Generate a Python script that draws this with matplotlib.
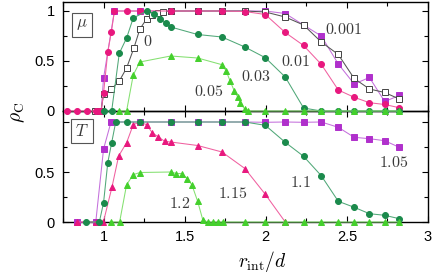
import matplotlib
matplotlib.use("Agg")
import matplotlib.pyplot as plt
from matplotlib.ticker import MultipleLocator

plt.rcParams['mathtext.fontset'] = 'cm'
plt.rcParams['font.family'] = ['Liberation Sans', 'DejaVu Sans']

# ---------------- data: top panel (mu) ----------------
mu0_x = [0.95, 0.985, 1.0, 1.046, 1.097, 1.142, 1.187, 1.224, 1.265, 1.30, 1.338, 1.367, 1.414,
         1.58, 1.73, 1.871, 1.997, 2.12, 2.233, 2.342, 2.447, 2.545, 2.639, 2.733, 2.823]
mu0_y = [0, 0, 0.17, 0.215, 0.30, 0.43, 0.63, 0.82, 0.92, 0.96, 0.985, 0.995, 1.0,
         1.0, 1.0, 1.0, 0.99, 0.94, 0.86, 0.69, 0.565, 0.325, 0.22, 0.185, 0.12]

mu0001_x = [0.952, 0.985, 1.0, 1.067, 1.224, 1.414, 1.58, 1.73, 1.871, 1.997, 2.12, 2.233,
            2.342, 2.447, 2.545, 2.639, 2.733, 2.823]
mu0001_y = [0, 0, 0.33, 1.0, 1.0, 1.0, 1.0, 1.0, 1.0, 1.0, 0.975, 0.86,
            0.75, 0.47, 0.27, 0.335, 0.095, 0.155]

mu001_x = [0.774, 0.839, 0.897, 0.952, 0.974, 0.985, 1.0, 1.026, 1.048, 1.067, 1.142, 1.224,
           1.414, 1.58, 1.73, 1.871, 1.997, 2.12, 2.233, 2.342, 2.447, 2.545, 2.639, 2.733, 2.823]
mu001_y = [0, 0, 0, 0, 0, 0, 0.18, 0.59, 0.79, 1.0, 1.0, 1.0,
           1.0, 1.0, 1.0, 0.995, 0.965, 0.785, 0.655, 0.467, 0.21, 0.137, 0.083, 0.065, 0.033]

mu003_x = [1.0, 1.05, 1.097, 1.142, 1.183, 1.267, 1.31, 1.347, 1.382, 1.414, 1.58, 1.73,
           1.871, 1.997, 2.12, 2.233, 2.342, 2.447, 2.545, 2.639, 2.733, 2.823]
mu003_y = [0, 0, 0.577, 0.73, 0.93, 1.0, 0.975, 0.92, 0.885, 0.84, 0.765, 0.74,
           0.64, 0.533, 0.34, 0.03, 0, 0, 0, 0, 0, 0]

mu005_x = [1.097, 1.142, 1.183, 1.224, 1.414, 1.58, 1.73, 1.756, 1.78, 1.807, 1.827, 1.842,
           1.871, 1.888, 1.997, 2.12, 2.233, 2.342, 2.447, 2.545, 2.639, 2.733, 2.823]
mu005_y = [0, 0, 0.36, 0.49, 0.55, 0.53, 0.463, 0.40, 0.30, 0.197, 0.14, 0.083,
           0.017, 0.0, 0, 0, 0, 0, 0, 0, 0, 0, 0]

# ---------------- data: bottom panel (T) ----------------
T105_x = [0.839, 0.952, 1.0, 1.046, 1.224, 1.414, 1.58, 1.73, 1.871, 1.997, 2.12, 2.233,
          2.342, 2.447, 2.545, 2.639, 2.733, 2.823]
T105_y = [0, 0, 0.73, 1.0, 1.0, 1.0, 1.0, 1.0, 1.0, 0.997, 1.0, 0.997,
          1.0, 0.947, 0.847, 0.833, 0.813, 0.747]

T11_x = [0.893, 0.974, 1.0, 1.026, 1.050, 1.075, 1.142, 1.224, 1.414, 1.58, 1.73, 1.871,
         1.997, 2.12, 2.233, 2.342, 2.447, 2.545, 2.639, 2.733, 2.823]
T11_y = [0, 0, 0.193, 0.593, 0.793, 1.0, 1.0, 1.0, 1.0, 1.0, 1.0, 1.0,
         0.967, 0.797, 0.657, 0.463, 0.207, 0.147, 0.083, 0.067, 0.033]

T115_x = [0.839, 0.952, 0.999, 1.052, 1.093, 1.142, 1.183, 1.224, 1.265, 1.30, 1.338, 1.377,
          1.414, 1.58, 1.73, 1.871, 1.997, 2.12]
T115_y = [0, 0, 0, 0.35, 0.66, 0.793, 0.973, 1.0, 0.973, 0.893, 0.85, 0.807,
          0.80, 0.765, 0.70, 0.535, 0.277, 0.0]

T12_x = [1.046, 1.099, 1.142, 1.183, 1.224, 1.414, 1.449, 1.483, 1.517, 1.545, 1.58, 1.612,
         1.643, 1.674, 1.704, 1.735, 1.871, 1.997, 2.12, 2.233, 2.342, 2.447, 2.545, 2.639,
         2.733, 2.823]
T12_y = [0, 0, 0.373, 0.473, 0.495, 0.50, 0.485, 0.485, 0.433, 0.37, 0.207, 0.02,
         0, 0, 0, 0, 0, 0, 0, 0, 0, 0, 0, 0, 0, 0]

top_labels = ['0', '0.001', '0.01', '0.03', '0.05']
bot_labels = ['1.05', '1.1', '1.15', '1.2']

# ---------------- styles ----------------
MAG, MAG_L = '#e8187e', '#f060a0'
PUR, PUR_L = '#b030cc', '#c470dc'
DGR, DGR_L = '#1b8a4c', '#50a878'
LGR, LGR_L = '#44d02c', '#84e070'
BLK, BLK_L = '#444444', '#555555'
LBL = '#3a3a3a'

W, H = 436, 275
fig = plt.figure(figsize=(W / 100, H / 100), dpi=100)
left, right = 63 / W, 428 / W
ax1 = fig.add_axes([left, 1 - 111 / H, right - left, 109 / H])
ax2 = fig.add_axes([left, 1 - 222 / H, right - left, 111 / H])

def series(ax, x, y, color, lcolor, marker, ms, z, mfc=None):
    ax.plot(x, y, color=lcolor, lw=0.75, marker=marker, ms=ms,
            mfc=mfc or color, mec=color, mew=0.7, clip_on=False, zorder=z)

series(ax1, mu0001_x, mu0001_y, PUR, PUR_L, 's', 4.8, 3)
series(ax1, mu0_x, mu0_y, BLK, BLK_L, 's', 4.8, 4, mfc='white')
series(ax1, mu001_x, mu001_y, MAG, MAG_L, 'o', 4.3, 5)
series(ax1, mu003_x, mu003_y, DGR, DGR_L, 'o', 4.3, 6)
series(ax1, mu005_x, mu005_y, LGR, LGR_L, '^', 4.4, 7)

series(ax2, T105_x, T105_y, PUR, PUR_L, 's', 4.8, 3)
series(ax2, T115_x, T115_y, MAG, MAG_L, '^', 4.4, 4)
series(ax2, T11_x, T11_y, DGR, DGR_L, 'o', 4.3, 5)
series(ax2, T12_x, T12_y, LGR, LGR_L, '^', 4.4, 6)

for ax, ymax in ((ax1, 1.09), (ax2, 1.11)):
    ax.set_xlim(0.75, 3.0)
    ax.set_ylim(0, ymax)
    ax.xaxis.set_major_locator(MultipleLocator(0.5))
    ax.xaxis.set_minor_locator(MultipleLocator(0.25))
    ax.yaxis.set_major_locator(MultipleLocator(0.5))
    ax.yaxis.set_minor_locator(MultipleLocator(0.25))
    ax.tick_params(which='both', direction='in', top=True, right=True, width=0.8,
                   labelsize=10.5, pad=6)
    ax.tick_params(which='major', length=4)
    ax.tick_params(which='minor', length=3)
    for s in ax.spines.values():
        s.set_linewidth(1.0)
    ax.set_yticks([0, 0.5, 1])
    ax.set_yticklabels(['0', '0.5', '1'])

ax1.tick_params(labelbottom=False)
ax1.set_zorder(3)
ax1.patch.set_visible(False)
ax2.set_yticklabels(['0', '0.5', ''])
ax2.set_xticks([1, 1.5, 2, 2.5, 3])
ax2.set_xticklabels(['1', '1.5', '2', '2.5', '3'])

def px2data(px, py, panel_bottom, ymax, ph):
    x = 0.75 + (px - 63) / (428 - 63) * 2.25
    y = (panel_bottom - py) / ph * ymax
    return x, y

# curve labels (top)
top_pos = [(148, 42), (344, 30), (296, 62), (256, 77), (209, 92)]
for lab, (px, py) in zip(top_labels, top_pos):
    x, y = px2data(px, py, 111, 1.09, 109)
    ax1.text(x, y, '$' + lab + '$', fontsize=11.5, color=LBL, ha='center', va='center')

bot_pos = [(394, 163), (301, 183), (233, 193), (180, 203)]
for lab, (px, py) in zip(bot_labels, bot_pos):
    x, y = px2data(px, py, 222, 1.11, 111)
    ax2.text(x, y, '$' + lab + '$', fontsize=11.5, color=LBL, ha='center', va='center')

box = dict(boxstyle='square,pad=0.25', fc='white', ec='#555555', lw=0.8)
ax1.text(82 / W, 1 - 25 / H, r'$\mu$', transform=fig.transFigure, fontsize=12,
         ha='center', va='center', color=LBL, bbox=box, zorder=10)
ax2.text(82 / W, 1 - 131 / H, r'$T$', transform=fig.transFigure, fontsize=12,
         ha='center', va='center', color=LBL, bbox=box, zorder=10)

fig.text(18 / W, 1 - 112 / H, r'$\rho_{\rm C}$', rotation=90, fontsize=14,
         ha='center', va='center')
fig.text(262 / W, 1 - 261 / H, r'$r_{\rm int}/d$', fontsize=14, ha='center', va='center')

fig.savefig('out.png', dpi=100)
